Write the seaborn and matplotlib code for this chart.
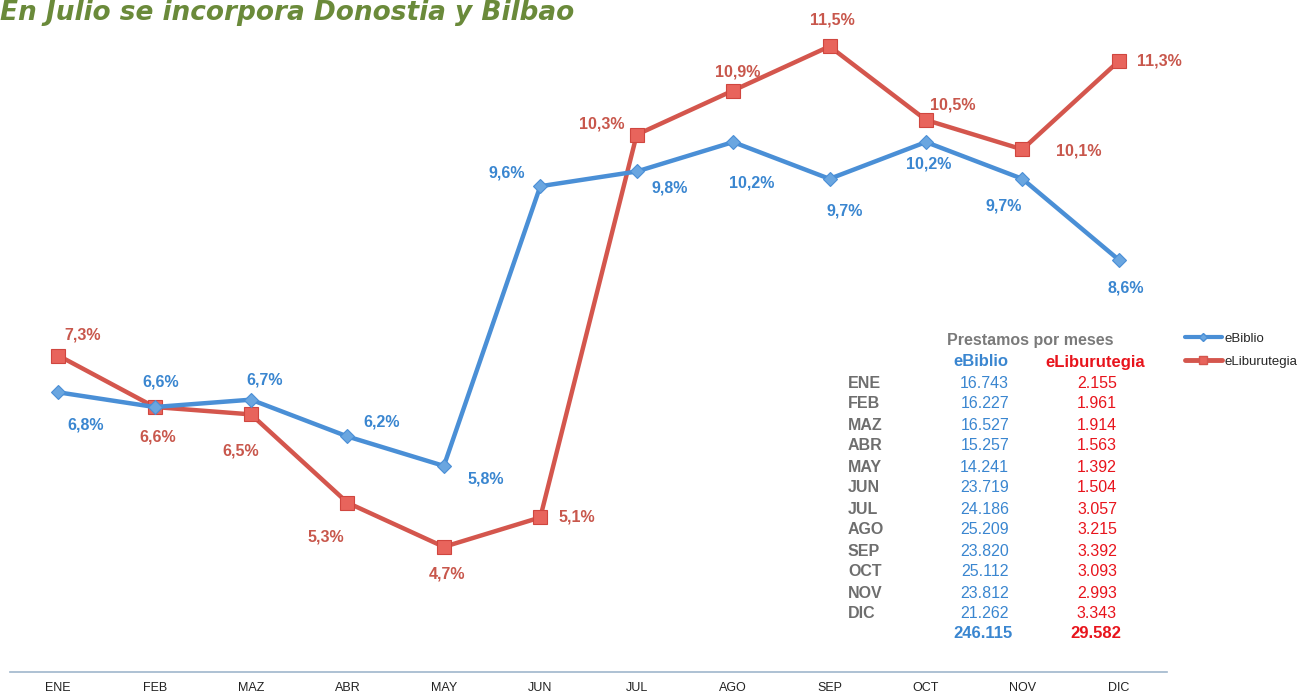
import matplotlib
matplotlib.use("Agg")
import matplotlib.pyplot as plt
import seaborn as sns
import pandas as pd
from matplotlib.lines import Line2D

# Chart data
months = ["ENE", "FEB", "MAZ", "ABR", "MAY", "JUN", "JUL", "AGO", "SEP", "OCT", "NOV", "DIC"]
ebiblio_pct = [6.8, 6.6, 6.7, 6.2, 5.8, 9.6, 9.8, 10.2, 9.7, 10.2, 9.7, 8.6]
eliburutegia_pct = [7.3, 6.6, 6.5, 5.3, 4.7, 5.1, 10.3, 10.9, 11.5, 10.5, 10.1, 11.3]

# Prestamos por meses (table)
ebiblio_loans = [16743, 16227, 16527, 15257, 14241, 23719, 24186, 25209, 23820, 25112, 23812, 21262]
eliburutegia_loans = [2155, 1961, 1914, 1563, 1392, 1504, 3057, 3215, 3392, 3093, 2993, 3343]

# label offsets in pixels (layout only)
blue_off = [(27, -33), (6, 25), (14, 20), (34, 14), (42, -13), (-34, 13),
            (33, -17), (19, -41), (15, -32), (3, -22), (-19, -27), (7, -28)]
red_off = [(24, 21), (3, -30), (-10, -37), (-22, -34), (3, -27), (37, 0),
           (-35, 11), (5, 19), (3, 26), (27, 15), (56, -2), (41, 0)]

BLUE = "#4a8fd6"
BLUE_TXT = "#3a86d0"
RED = "#d4564d"
RED_TXT = "#c8574c"
RED_TAB = "#e8141c"
GRAY = "#6e6e6e"

sns.set_style("white")
plt.rcParams["font.family"] = ["Liberation Sans", "DejaVu Sans"]

W, H = 1300, 695
fig = plt.figure(figsize=(W / 100, H / 100), dpi=100)
ax = fig.add_axes([10 / W, 1 - 672 / H, (1167 - 10) / W, 672 / H])

df = pd.DataFrame({
    "x": list(range(12)) * 2,
    "pct": ebiblio_pct + eliburutegia_pct,
    "serie": ["eBiblio"] * 12 + ["eLiburutegia"] * 12,
})

sns.lineplot(data=df, x="x", y="pct", hue="serie", style="serie",
             palette={"eBiblio": BLUE, "eLiburutegia": RED},
             markers={"eBiblio": "D", "eLiburutegia": "s"}, dashes=False,
             linewidth=3.2, markersize=8, markeredgewidth=0.8, ax=ax, legend=False)
# adjust marker sizes per series
lines = ax.get_lines()
lines[0].set_markersize(7)
lines[0].set_markerfacecolor("#6aa6e0")
lines[0].set_markeredgecolor("#4a8fd6")
lines[1].set_markersize(9.5)
lines[1].set_markerfacecolor("#e8645c")
lines[1].set_markeredgecolor("#d0463f")
lines[1].set_zorder(3)
lines[0].set_zorder(4)

def fmt(v):
    return f"{v:.1f}".replace(".", ",") + "%"

for i, v in enumerate(ebiblio_pct):
    ax.annotate(fmt(v), (i, v), xytext=blue_off[i], textcoords="offset pixels",
                ha="center", va="center", color=BLUE_TXT, fontsize=11.5, fontweight="bold")
for i, v in enumerate(eliburutegia_pct):
    ax.annotate(fmt(v), (i, v), xytext=red_off[i], textcoords="offset pixels",
                ha="center", va="center", color=RED_TXT, fontsize=11.5, fontweight="bold")

ax.set_xlim(-0.5, 11.5)
ax.set_ylim(3.0, 12.13)
ax.set_yticks([])
ax.set_xticks(range(12))
ax.set_xticklabels(months, fontsize=9, color="#222222")
ax.set_xticks([i - 0.5 for i in range(13)], minor=True)
ax.tick_params(axis="x", which="major", length=0, pad=7)
ax.tick_params(axis="x", which="minor", length=4, direction="out", color="#9fb6cc", width=1)
ax.set_xlabel("")
ax.set_ylabel("")
for s in ["top", "left", "right"]:
    ax.spines[s].set_visible(False)
ax.spines["bottom"].set_color("#9fb6cc")
ax.spines["bottom"].set_linewidth(1.2)

# title
fig.text(0, 1 - 13 / H, "En Julio se incorpora Donostia y Bilbao",
         family=["DejaVu Sans"], fontsize=19, fontweight="bold", style="italic",
         color="#6a8a3a", ha="left", va="center")

# legend (manual handles)
handles = [Line2D([], [], color=BLUE, lw=3, marker="D", ms=4, markerfacecolor="#6aa6e0"),
           Line2D([], [], color=RED, lw=3.5, marker="s", ms=6, markerfacecolor="#e8645c")]
fig.legend(handles, ["eBiblio", "eLiburutegia"], loc="upper left",
           bbox_to_anchor=(1178 / W, 1 - 326 / H), frameon=False, fontsize=9.5,
           handlelength=2.8, handletextpad=0.2, labelspacing=0.8, borderpad=0)

# table
def py(p):
    return 1 - p / H

fig.text(1030 / W, py(341), "Prestamos por meses", ha="center", va="center",
         fontsize=11.5, fontweight="bold", color="#7a7a7a")
fig.text(981 / W, py(362), "eBiblio", ha="center", va="center",
         fontsize=12, fontweight="bold", color=BLUE_TXT)
fig.text(1095 / W, py(362), "eLiburutegia", ha="center", va="center",
         fontsize=12, fontweight="bold", color=RED_TAB)

def thousands(n):
    return f"{n:,}".replace(",", ".")

for i, m in enumerate(months):
    y = py(383 + i * 21)
    fig.text(848 / W, y, m, ha="left", va="center", fontsize=11.5, fontweight="bold", color=GRAY)
    fig.text(1009 / W, y, thousands(ebiblio_loans[i]), ha="right", va="center",
             fontsize=11.5, color=BLUE_TXT)
    fig.text(1117 / W, y, thousands(eliburutegia_loans[i]), ha="right", va="center",
             fontsize=11.5, color=RED_TAB)
fig.text(983 / W, py(634), thousands(sum(ebiblio_loans)), ha="center", va="center",
         fontsize=12, fontweight="bold", color=BLUE_TXT)
fig.text(1096 / W, py(634), thousands(sum(eliburutegia_loans)), ha="center", va="center",
         fontsize=12, fontweight="bold", color=RED_TAB)

fig.savefig("out.png", dpi=100, facecolor="white")
